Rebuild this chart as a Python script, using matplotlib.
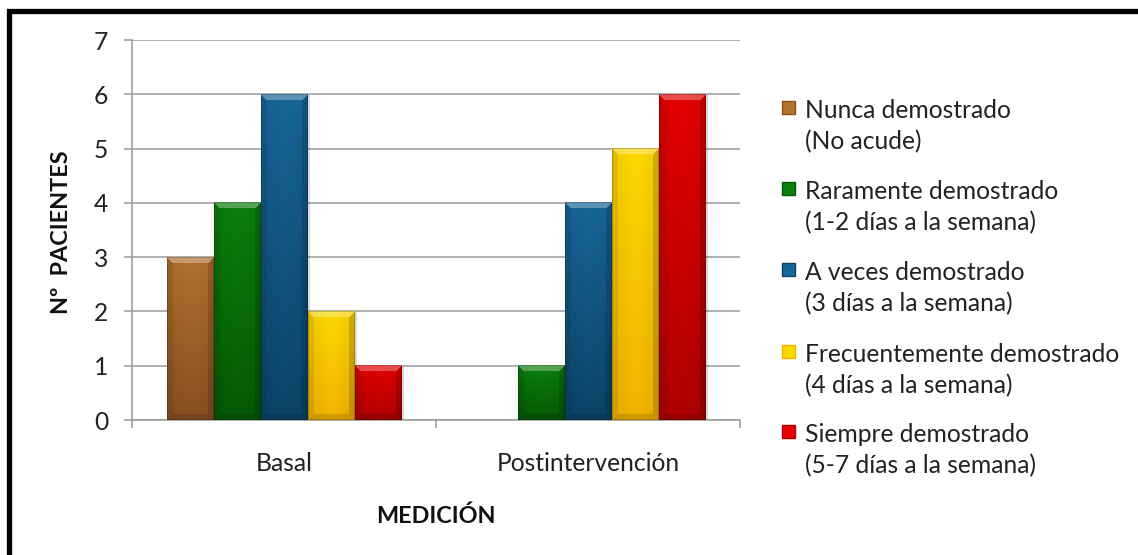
import numpy as np
import matplotlib
matplotlib.use("Agg")
import matplotlib.pyplot as plt
from matplotlib.colors import to_rgb
from matplotlib.patches import Rectangle

# ---- data ----
categories = ["Basal", "Postintervención"]
series_names = [
    "Nunca demostrado\n(No acude)",
    "Raramente demostrado\n(1-2 días a la semana)",
    "A veces demostrado\n(3 días a la semana)",
    "Frecuentemente demostrado\n(4 días a la semana)",
    "Siempre demostrado\n(5-7 días a la semana)",
]
nunca = [3, 0]
raramente = [4, 1]
a_veces = [6, 4]
frecuente = [2, 5]
siempre = [1, 6]
values = [nunca, raramente, a_veces, frecuente, siempre]
y_ticks = [0, 1, 2, 3, 4, 5, 6, 7]

top_colors = ["#B4722F", "#0B800B", "#17679A", "#FFD800", "#E60000"]
bot_colors = ["#8A5020", "#055A05", "#0C4468", "#F2B400", "#B00000"]

plt.rcParams['font.family'] = ['Lato', 'DejaVu Sans']

W, H = 1138, 555
fig = plt.figure(figsize=(W / 100, H / 100), dpi=100)
ax = fig.add_axes([132 / W, 1 - 420 / H, (740 - 132) / W, (420 - 40) / H])

n = len(values)
bw = 47 / 304
x = np.arange(len(categories))
ax.set_xlim(-0.5, len(categories) - 0.5)
ax.set_ylim(0, 7)

px_x = 304.0
px_y = 380.0 / 7


def bar_image(c_top, c_bot, wpx, hpx, bev=6):
    ct = np.array(to_rgb(c_top))
    cb = np.array(to_rgb(c_bot))
    ii, jj = np.mgrid[0:hpx, 0:wpx]
    t = (ii / max(hpx - 1, 1))[..., None]
    img = ct * (1 - t) + cb * t
    hx = 1 - 0.06 * np.abs((jj - wpx / 2) / (wpx / 2))
    img = img * hx[..., None]
    top = ii
    left = jj
    right = wpx - 1 - jj
    bottom = hpx - 1 - ii
    b = min(bev, hpx // 2, wpx // 2)
    m_top = (top < b) & (top <= left) & (top <= right)
    m_left = (left < b) & (left < top) & (left <= bottom) & ~m_top
    m_right = (right < b) & (right < top) & (right <= bottom) & ~m_top & ~m_left
    m_bot = (bottom < b) & ~m_top & ~m_left & ~m_right
    white = np.ones(3)
    img[m_top] = img[m_top] * 0.7 + white * 0.3
    img[m_left] = img[m_left] * 0.92
    img[m_right] = img[m_right] * 0.85
    img[m_bot] = img[m_bot] * 0.87
    edge = (top == 0) | (left == 0) | (right == 0) | (bottom == 0)
    img[edge] = img[edge] * 0.8
    return np.clip(img, 0, 1)


for k, (vals, name) in enumerate(zip(values, series_names)):
    offs = (k - (n - 1) / 2) * bw
    bars = ax.bar(x + offs, vals, width=bw, color=top_colors[k], linewidth=0,
                  label=name, zorder=3)
    for b_, v in zip(bars, vals):
        if v <= 0:
            b_.set_visible(False)
            continue
        x0 = b_.get_x()
        wpx = int(round(bw * px_x))
        hpx = int(round(v * px_y))
        img = bar_image(top_colors[k], bot_colors[k], wpx, hpx)
        ax.add_patch(Rectangle((x0 + 2 / px_x, 0), bw, v - 1 / px_y,
                               facecolor=(0, 0, 0, 0.15), edgecolor='none', zorder=2.5))
        ax.imshow(img, extent=[x0, x0 + bw, 0, v], aspect='auto', zorder=4,
                  interpolation='nearest')

ax.set_xlim(-0.5, len(categories) - 0.5)
ax.set_ylim(0, 7)

grid_c = "#9A9A9A"
txt_c = "#222222"
fs = 17.7
ax.set_yticks(y_ticks)
ax.yaxis.grid(True, color=grid_c, linewidth=1.1, zorder=0)
ax.set_axisbelow(True)
for s in ["top", "right"]:
    ax.spines[s].set_visible(False)
for s in ["left", "bottom"]:
    ax.spines[s].set_color(grid_c)
    ax.spines[s].set_linewidth(1.1)
ax.tick_params(axis='y', direction='out', length=6, color=grid_c, width=1.1,
               labelsize=fs, pad=11, labelcolor=txt_c)
ax.set_xticks(x)
ax.set_xticklabels(categories)
ax.tick_params(axis='x', which='major', length=0, labelsize=fs, pad=23,
               labelcolor=txt_c)
ax.set_xticks(np.arange(-0.5, len(categories), 1.0), minor=True)
ax.tick_params(axis='x', which='minor', direction='out', length=6,
               color=grid_c, width=1.1)

fig.text(62 / W, 1 - 232 / H, "Nº  PACIENTES", rotation=90, fontsize=16.8,
         fontweight='bold', ha='center', va='center', color="#111111")
fig.text(436 / W, 1 - 516 / H, "MEDICIÓN", fontsize=16.8, fontweight='bold',
         ha='center', va='center', color="#111111")

# legend (placed manually to match layout)
first_y = [108, 189, 270, 352, 432]
line_gap = 32
for k, name in enumerate(series_names):
    lines = name.split("\n")
    y0 = first_y[k]
    for j, ln in enumerate(lines):
        fig.text(805 / W, 1 - (y0 + j * line_gap) / H, ln, fontsize=fs,
                 ha='left', va='center_baseline', color=txt_c)
    fig.add_artist(Rectangle((782 / W, 1 - (y0 + 6) / H), 13 / W, 13 / H,
                             transform=fig.transFigure, facecolor=top_colors[k],
                             edgecolor=bot_colors[k], linewidth=1))

fig.add_artist(Rectangle((9 / W, -0.05), 1.2, 1 - 10.5 / H + 0.05,
                         transform=fig.transFigure, fill=False,
                         edgecolor='black', linewidth=3.8, zorder=10))

fig.savefig("out.png", dpi=100)
